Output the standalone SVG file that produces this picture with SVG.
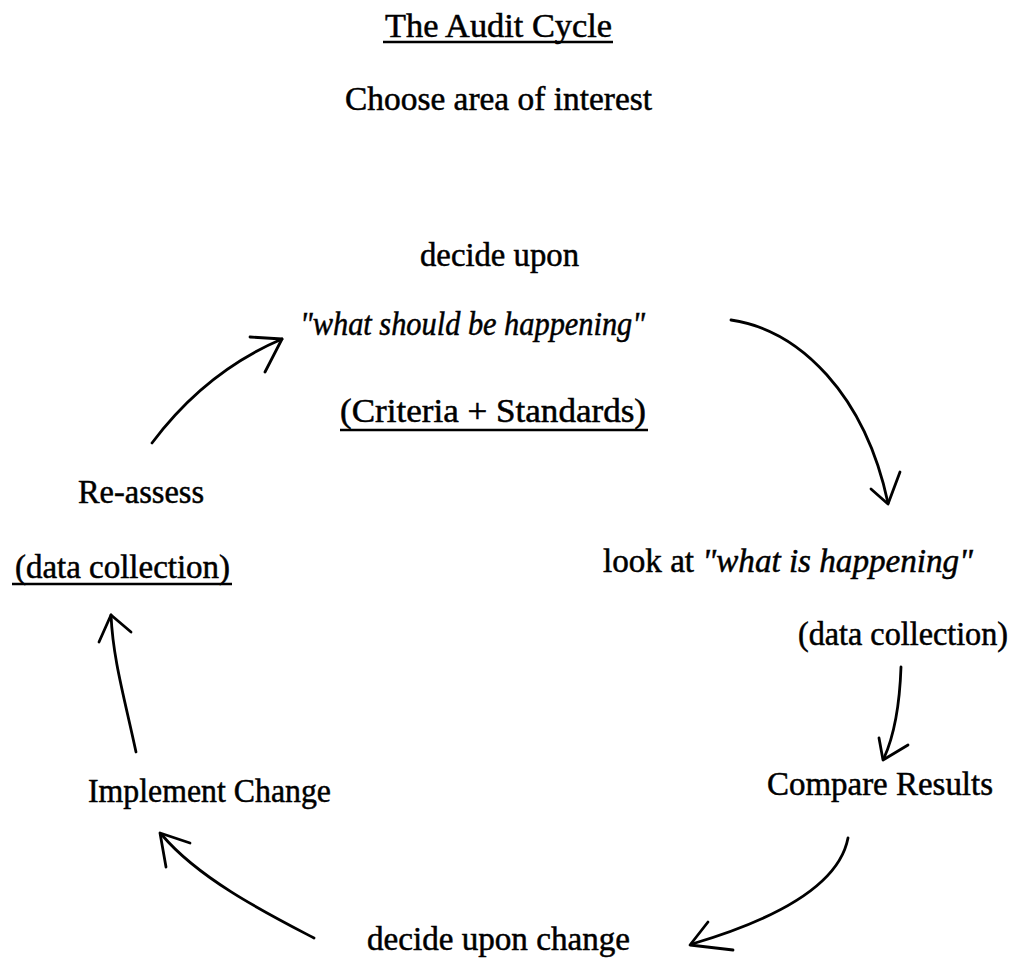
<svg xmlns="http://www.w3.org/2000/svg" width="1019" height="962" viewBox="0 0 1019 962">
<style>
  .t { font-family: "Liberation Serif", "Times New Roman", serif; font-size: 33px; fill: #000; stroke: #000; stroke-width: 0.5; }
  .i { font-style: italic; }
  .ul { stroke: #000; stroke-width: 2.6; fill: none; }
  .arc { stroke: #000; stroke-width: 2.8; fill: none; stroke-linecap: round; stroke-linejoin: round; }
</style>
<rect x="0" y="0" width="1019" height="962" fill="#fff"/>

<g id="title">
  <text class="t" x="385" y="37" textLength="227" lengthAdjust="spacingAndGlyphs">The Audit Cycle</text>
  <line class="ul" x1="383" y1="42" x2="613" y2="42"/>
</g>
<g id="choose">
  <text class="t" x="345" y="110" textLength="307" lengthAdjust="spacingAndGlyphs">Choose area of interest</text>
</g>
<g id="criteria">
  <text class="t" x="420" y="266" textLength="159" lengthAdjust="spacingAndGlyphs">decide upon</text>
  <text class="t i" x="300" y="335" textLength="345" lengthAdjust="spacingAndGlyphs">"what should be happening"</text>
  <text class="t" x="340" y="422" textLength="306" lengthAdjust="spacingAndGlyphs">(Criteria + Standards)</text>
  <line class="ul" x1="340" y1="430" x2="648" y2="430"/>
</g>
<g id="look">
  <text class="t" x="603" y="572" textLength="370" lengthAdjust="spacingAndGlyphs">look at <tspan class="i">"what is happening"</tspan></text>
  <text class="t" x="798" y="645" textLength="210" lengthAdjust="spacingAndGlyphs">(data collection)</text>
</g>
<g id="compare">
  <text class="t" x="767" y="795" textLength="226" lengthAdjust="spacingAndGlyphs">Compare Results</text>
</g>
<g id="decide-change">
  <text class="t" x="367" y="950" textLength="263" lengthAdjust="spacingAndGlyphs">decide upon change</text>
</g>
<g id="implement">
  <text class="t" x="88" y="802" textLength="243" lengthAdjust="spacingAndGlyphs">Implement Change</text>
</g>
<g id="reassess">
  <text class="t" x="78" y="503" textLength="126" lengthAdjust="spacingAndGlyphs">Re-assess</text>
  <text class="t" x="15" y="578" textLength="215" lengthAdjust="spacingAndGlyphs">(data collection)</text>
  <line class="ul" x1="12" y1="584" x2="232" y2="584"/>
</g>

<g id="connectors">
  <path class="arc" d="M152,443 Q205,372 282,339"/>
  <path class="arc" d="M250,337 L282,339 L265,372"/>

  <path class="arc" d="M731,320 C800,330 865,395 888,503"/>
  <path class="arc" d="M871,489 L888,504 L900,472"/>

  <path class="arc" d="M901,667 Q899,725 884,758"/>
  <path class="arc" d="M879,738 L883,760 L908,745"/>

  <path class="arc" d="M848,838 C840,880 790,915 692,944"/>
  <path class="arc" d="M708,922 L690,945 L733,950"/>

  <path class="arc" d="M314,938 C270,915 200,880 162,835"/>
  <path class="arc" d="M166,867 L160,833 L190,843"/>

  <path class="arc" d="M136,752 C125,700 113,660 111,615"/>
  <path class="arc" d="M99,642 L111,615 L131,632"/>
</g>
</svg>
